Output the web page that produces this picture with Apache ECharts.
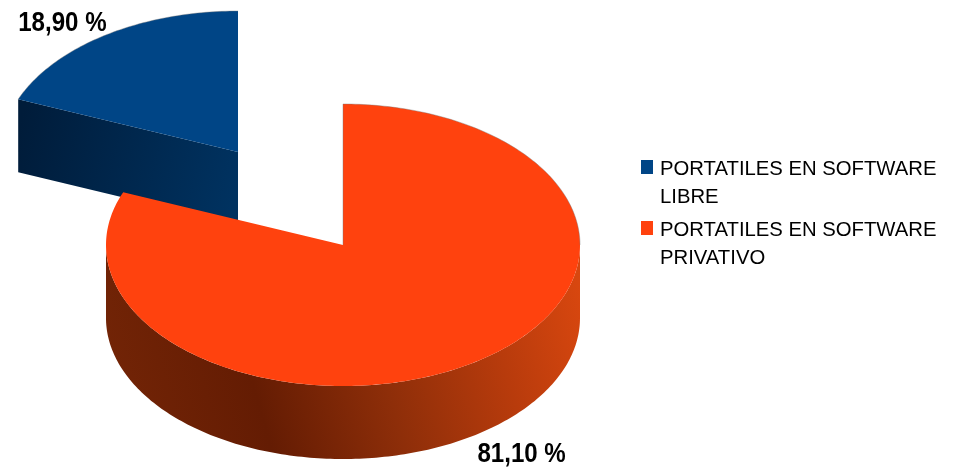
<!DOCTYPE html>
<html>
<head>
<meta charset="utf-8">
<script src="https://cdn.jsdelivr.net/npm/echarts@6/dist/echarts.min.js"></script>
<style>
  html, body { margin: 0; padding: 0; background: #fff; }
  #chart { width: 959px; height: 469px; }
</style>
</head>
<body>
<div id="chart"></div>
<script>
const categories = ['PORTATILES EN SOFTWARE\nLIBRE', 'PORTATILES EN SOFTWARE\nPRIVATIVO']
const values = [18.9, 81.1]
const valueLabels = ['18,90 %', '81,10 %']

// pie geometry, in pixels
const RX = 237
const RY = 141
const DEPTH = 73
const total = values.reduce((a, b) => a + b, 0)

// slice look and placement: the first slice is pulled out of the pie
const sliceStyles = [
  {
    cx: 238, cy: 152, top: '#004586', labelDx: -43, labelDy: -12,
    side: [[0, '#001c3a'], [1, '#003260']], sideLine: [19, 130, 238, 180]
  },
  {
    cx: 343, cy: 245, top: '#ff420e', labelDx: 46, labelDy: 92,
    side: [[0, '#722406'], [0.28, '#641c03'], [0.55, '#8e2e09'], [0.8, '#b83b0c'], [1, '#d8470f']],
    sideLine: [120, 400, 575, 270]
  }
]

// angles are clockwise from 12 o'clock, the first slice ends there
const sliceAngles = (i) => {
  const sweep = values[i] / total * 360
  if (i === 0) return [360 - sweep, 360]
  return [0, sweep]
}

const rimPoint = (s, deg, dy = 0) => {
  const a = deg * Math.PI / 180
  return [s.cx + RX * Math.sin(a), s.cy - RY * Math.cos(a) + dy]
}

const arcPoints = (s, from, to, dy = 0) => {
  const pts = []
  const steps = Math.max(2, Math.ceil(Math.abs(to - from)))
  for (let k = 0; k <= steps; k++) pts.push(rimPoint(s, from + (to - from) * k / steps, dy))
  return pts
}

const renderSlice = (i) => () => {
  const s = sliceStyles[i]
  const [a0, a1] = sliceAngles(i)
  const fill = {
    type: 'linear', global: true,
    x: s.sideLine[0], y: s.sideLine[1], x2: s.sideLine[2], y2: s.sideLine[3],
    colorStops: s.side.map(([offset, color]) => ({ offset, color }))
  }
  const children = []

  // straight cut face, only when it turns towards the viewer
  const facing = Math.cos((a0 - 90) * Math.PI / 180) < -1e-6
  if (facing) {
    const p = rimPoint(s, a0)
    children.push({
      type: 'polygon',
      shape: { points: [p, [s.cx, s.cy], [s.cx, s.cy + DEPTH], [p[0], p[1] + DEPTH]] },
      style: { fill }
    })
  }

  // outer wall, the front half of the rim
  const from = Math.max(a0, 90)
  const to = Math.min(a1, 270)
  if (to > from) {
    children.push({
      type: 'polygon',
      shape: { points: arcPoints(s, from, to).concat(arcPoints(s, to, from, DEPTH)) },
      style: { fill }
    })
  }

  // top surface
  children.push({
    type: 'polygon',
    shape: { points: [[s.cx, s.cy]].concat(arcPoints(s, a0, a1)) },
    style: { fill: s.top }
  })

  // thin grey rim along the back edge
  const backPts = a0 >= 270
    ? arcPoints(s, a0, 360)
    : [[s.cx, s.cy]].concat(arcPoints(s, 0, 90))
  children.push({
    type: 'polyline',
    shape: { points: backPts },
    style: { fill: 'none', stroke: 'rgba(120,120,120,0.4)', lineWidth: 1 }
  })

  // Liberation Sans squeezed sideways, the original label face is narrower
  const mid = rimPoint(s, (a0 + a1) / 2)
  children.push({
    type: 'text',
    x: mid[0] + s.labelDx,
    y: mid[1] + s.labelDy,
    scaleX: 0.86,
    style: {
      text: valueLabels[i],
      align: 'center',
      verticalAlign: 'middle',
      fill: '#000',
      font: 'bold 28px "Liberation Sans", sans-serif'
    }
  })
  return { type: 'group', children }
}

const chart = echarts.init(document.getElementById('chart'), null, { renderer: 'canvas' })
chart.setOption({
  animation: false,
  backgroundColor: '#fff',
  legend: {
    orient: 'vertical',
    left: 641,
    top: 155,
    // swatch sits in the top part of the item so it lines up with the first text line
    icon: 'path://M0 0H12V14H0ZM14 46H14Z',
    itemWidth: 14,
    itemHeight: 46,
    itemGap: 5,
    padding: 0,
    data: categories,
    textStyle: {
      color: '#000',
      fontFamily: '"Liberation Sans", sans-serif',
      fontSize: 20.3,
      lineHeight: 28
    }
  },
  series: categories.map((name, i) => ({
    type: 'custom',
    name,
    coordinateSystem: 'none',
    itemStyle: { color: sliceStyles[i].top },
    renderItem: renderSlice(i),
    data: [values[i]]
  }))
})

window.addEventListener('resize', () => chart.resize())
</script>
</body>
</html>
